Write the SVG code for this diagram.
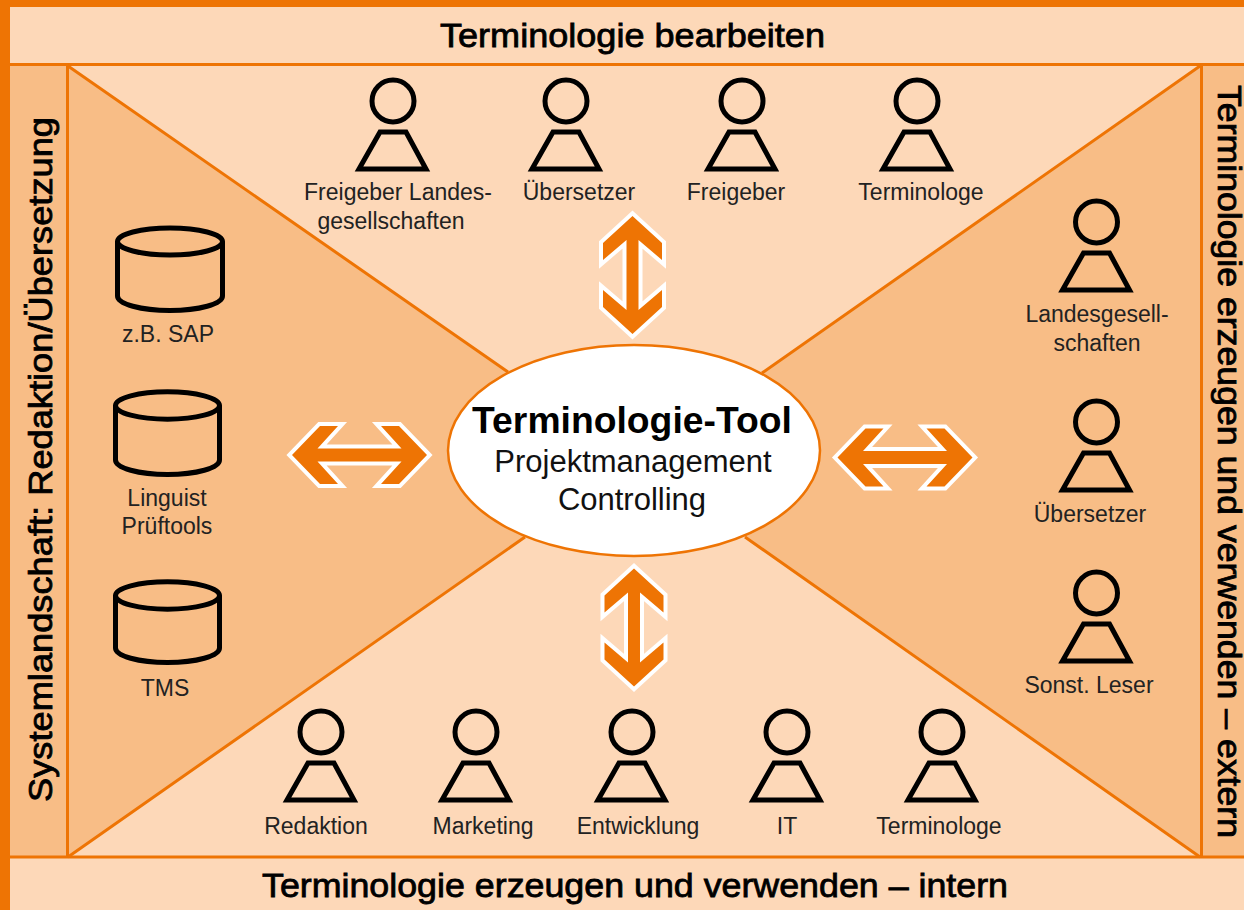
<svg xmlns="http://www.w3.org/2000/svg" xmlns:xlink="http://www.w3.org/1999/xlink" width="1244" height="910" viewBox="0 0 1244 910">
<style>
text{font-family:"Liberation Sans",Arial,sans-serif;fill:#111}
.lbl{font-size:23px;text-anchor:middle;fill:#222}
.hd{font-size:34px;text-anchor:middle;stroke:#000;stroke-width:.8px;fill:#000}
.ln{fill:none;stroke:#ee7404;stroke-width:3}
.sym{fill:none;stroke:#000;stroke-width:5}
.arr{fill:#ee7404;stroke:#fff;stroke-width:8;stroke-miterlimit:10;paint-order:stroke}
</style>
<defs>
<g id="person"><circle r="21" cx="0" cy="0" class="sym"/><path d="M-13 31H13L33 68H-34Z" class="sym"/></g>
<path id="h" class="arr" d="M-67.500 0L-39.500 -29H-21.500L-42 -6.500H42L21.500 -29H39.500L67.500 0L39.500 29H21.500L42 6.500H-42L-21.500 29H-39.500Z"/>
<path id="v" class="arr" d="M0 -59L29.500 -32V-15L6 -35V35L29.500 15V32L0 59L-29.500 32V15L-6 35V-35L-29.500 -15V-32Z"/>
</defs>
<rect width="1244" height="910" fill="#ee7404"/>
<rect x="10" y="7" width="1234" height="903" fill="#fdd8b8"/>
<g id="panels">
<rect x="10" y="66" width="58" height="791" fill="#f8bd86"/>
<rect x="1201" y="66" width="43" height="791" fill="#f8bd86"/>
<path d="M68 66L508 372L600 457L525 537L68 857Z" fill="#f8bd86"/>
<path d="M1200 66L762 373L680 457L745 537L1200 857Z" fill="#f8bd86"/>
</g>
<g id="connectors">
<path class="ln" d="M10 64.500H1244M10 857H1244M67.500 66V857M1201.500 66V857"/>
<path class="ln" d="M68 66L508 372M68 857L525 537M1200 66L762 373M1200 857L745 537"/>
<use xlink:href="#v" href="#v" x="632.500" y="275"/>
<use xlink:href="#v" href="#v" x="634" y="627.500"/>
<use xlink:href="#h" href="#h" x="359.500" y="455"/>
<use xlink:href="#h" href="#h" x="905" y="457.500"/>
</g>
<g id="center"><ellipse cx="634" cy="450.500" rx="186" ry="105.500" fill="#fff" stroke="#ee7404" stroke-width="2.500"/>
<text x="632" y="433" text-anchor="middle" font-size="37.300" font-weight="bold" fill="#000" style="fill:#000">Terminologie-Tool</text>
<text x="633" y="472" text-anchor="middle" font-size="31">Projektmanagement</text>
<text x="632" y="510" text-anchor="middle" font-size="31">Controlling</text></g>
<text class="hd" x="632.500" y="46.500" textLength="385" lengthAdjust="spacingAndGlyphs">Terminologie bearbeiten</text>
<text class="hd" x="635" y="896.500" textLength="746" lengthAdjust="spacingAndGlyphs">Terminologie erzeugen und verwenden – intern</text>
<text class="hd" transform="translate(52 459.500) rotate(-90)" x="0" y="0" textLength="685" lengthAdjust="spacingAndGlyphs">Systemlandschaft: Redaktion/Übersetzung</text>
<text class="hd" transform="translate(1218 461.500) rotate(90)" x="0" y="0" textLength="753" lengthAdjust="spacingAndGlyphs">Terminologie erzeugen und verwenden – extern</text>
<g id="p1"><use href="#person" xlink:href="#person" x="393" y="101"/><text class="lbl" x="398" y="200">Freigeber Landes-</text><text class="lbl" x="391" y="229">gesellschaften</text></g>
<g id="p2"><use href="#person" xlink:href="#person" x="566" y="101"/><text class="lbl" x="579" y="200">Übersetzer</text></g>
<g id="p3"><use href="#person" xlink:href="#person" x="742" y="101"/><text class="lbl" x="736" y="200">Freigeber</text></g>
<g id="p4"><use href="#person" xlink:href="#person" x="917" y="101"/><text class="lbl" x="921" y="200">Terminologe</text></g>
<g id="p5"><use href="#person" xlink:href="#person" x="1096.500" y="222"/><text class="lbl" x="1097" y="322">Landesgesell-</text><text class="lbl" x="1097" y="351">schaften</text></g>
<g id="p6"><use href="#person" xlink:href="#person" x="1096.500" y="422"/><text class="lbl" x="1090" y="522">Übersetzer</text></g>
<g id="p7"><use href="#person" xlink:href="#person" x="1096.500" y="593"/><text class="lbl" x="1089" y="693">Sonst. Leser</text></g>
<g id="p8"><use href="#person" xlink:href="#person" x="321" y="732"/><text class="lbl" x="316" y="834">Redaktion</text></g>
<g id="p9"><use href="#person" xlink:href="#person" x="476" y="732"/><text class="lbl" x="483" y="834">Marketing</text></g>
<g id="p10"><use href="#person" xlink:href="#person" x="632" y="732"/><text class="lbl" x="638" y="834">Entwicklung</text></g>
<g id="p11"><use href="#person" xlink:href="#person" x="787" y="732"/><text class="lbl" x="787" y="834">IT</text></g>
<g id="p12"><use href="#person" xlink:href="#person" x="942" y="732"/><text class="lbl" x="939" y="834">Terminologe</text></g>
<g id="db1"><path class="sym" d="M117.500 241.500V296A52.500 14.500 0 0 0 222.500 296V241.500"/><ellipse class="sym" cx="170" cy="241.500" rx="52.500" ry="13.500"/><text class="lbl" x="168" y="342">z.B. SAP</text></g>
<g id="db2"><path class="sym" d="M115.500 405.500V460A52 14.500 0 0 0 219.500 460V405.500"/><ellipse class="sym" cx="167.500" cy="405.500" rx="52" ry="13.700"/><text class="lbl" x="167" y="506">Linguist</text><text class="lbl" x="167" y="534">Prüftools</text></g>
<g id="db3"><path class="sym" d="M115.500 595.500V648A52 14.500 0 0 0 219.500 648V595.500"/><ellipse class="sym" cx="167.500" cy="595.500" rx="52" ry="13.700"/><text class="lbl" x="165" y="696">TMS</text></g>
</svg>
